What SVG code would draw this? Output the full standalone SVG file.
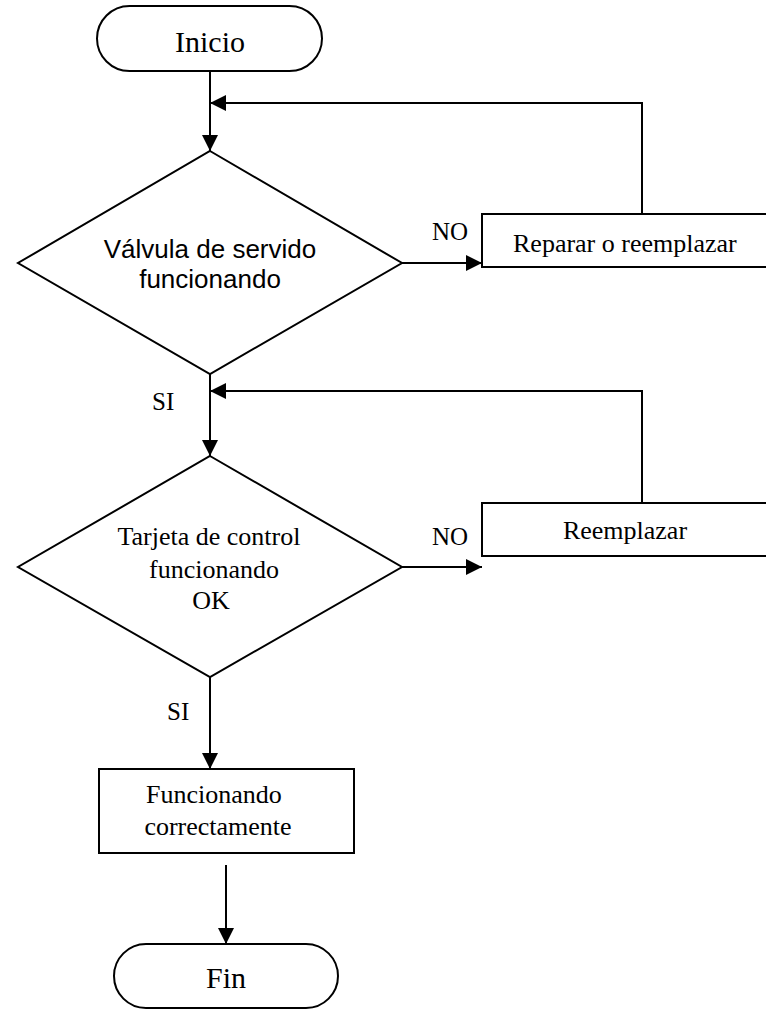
<svg xmlns="http://www.w3.org/2000/svg" width="766" height="1011" viewBox="0 0 766 1011">
  <style>
    .shape { fill: #ffffff; stroke: #000000; stroke-width: 2; }
    .line { fill: none; stroke: #000000; stroke-width: 2; }
    .serif { font-family: "Liberation Serif", "Times New Roman", serif; fill: #000000; }
    .sans { font-family: "Liberation Sans", Arial, sans-serif; fill: #000000; }
    .big { font-size: 30px; }
    .mid { font-size: 26px; }
    .lbl { font-size: 25px; }
  </style>
  <defs>
    <marker id="arrow" viewBox="0 0 16 16" refX="16" refY="8" markerWidth="16" markerHeight="16" markerUnits="userSpaceOnUse" orient="auto">
      <path d="M0,0 L16,8 L0,16 Z" fill="#000000"/>
    </marker>
  </defs>

  <rect width="766" height="1011" fill="#ffffff"/>

  <!-- connectors -->
  <g id="connectors">
    <line class="line" x1="210" y1="71" x2="210" y2="151" marker-end="url(#arrow)"/>
    <polyline class="line" points="642,214 642,103 210,103" marker-end="url(#arrow)"/>
    <line class="line" x1="402" y1="263" x2="482" y2="263" marker-end="url(#arrow)"/>
    <line class="line" x1="210" y1="374" x2="210" y2="456" marker-end="url(#arrow)"/>
    <polyline class="line" points="642,503 642,391 210,391" marker-end="url(#arrow)"/>
    <line class="line" x1="402" y1="567" x2="482" y2="567" marker-end="url(#arrow)"/>
    <line class="line" x1="210" y1="677" x2="210" y2="769" marker-end="url(#arrow)"/>
    <line class="line" x1="226" y1="865" x2="226" y2="944" marker-end="url(#arrow)"/>
    <text class="serif lbl" x="432" y="240">NO</text>
    <text class="serif lbl" x="152" y="410">SI</text>
    <text class="serif lbl" x="432" y="545">NO</text>
    <text class="serif lbl" x="167" y="720">SI</text>
  </g>

  <g id="inicio">
    <rect class="shape" x="97" y="6" width="225" height="65" rx="32.5"/>
    <text class="serif big" x="210" y="52" text-anchor="middle">Inicio</text>
  </g>

  <g id="valvula">
    <polygon class="shape" points="210,151 402,263 210,374 18,263"/>
    <text class="sans mid" x="210" y="258" text-anchor="middle">Válvula de servido</text>
    <text class="sans mid" x="210" y="288" text-anchor="middle">funcionando</text>
  </g>

  <g id="reparar">
    <rect class="shape" x="482" y="214" width="290" height="53"/>
    <text class="serif mid" x="513" y="252">Reparar o reemplazar</text>
  </g>

  <g id="tarjeta">
    <polygon class="shape" points="210,456 402,567 210,677 18,567"/>
    <text class="serif mid" x="209" y="545" text-anchor="middle">Tarjeta de control</text>
    <text class="serif mid" x="214" y="578" text-anchor="middle">funcionando</text>
    <text class="serif mid" x="211" y="609" text-anchor="middle">OK</text>
  </g>

  <g id="reemplazar">
    <rect class="shape" x="482" y="503" width="290" height="53"/>
    <text class="serif mid" x="625" y="539" text-anchor="middle">Reemplazar</text>
  </g>

  <g id="funcionando">
    <rect class="shape" x="99" y="769" width="255" height="84"/>
    <text class="serif mid" x="214" y="803" text-anchor="middle">Funcionando</text>
    <text class="serif mid" x="218" y="835" text-anchor="middle">correctamente</text>
  </g>

  <g id="fin">
    <rect class="shape" x="114" y="944" width="224" height="64" rx="32"/>
    <text class="serif big" x="226" y="988" text-anchor="middle">Fin</text>
  </g>
</svg>
